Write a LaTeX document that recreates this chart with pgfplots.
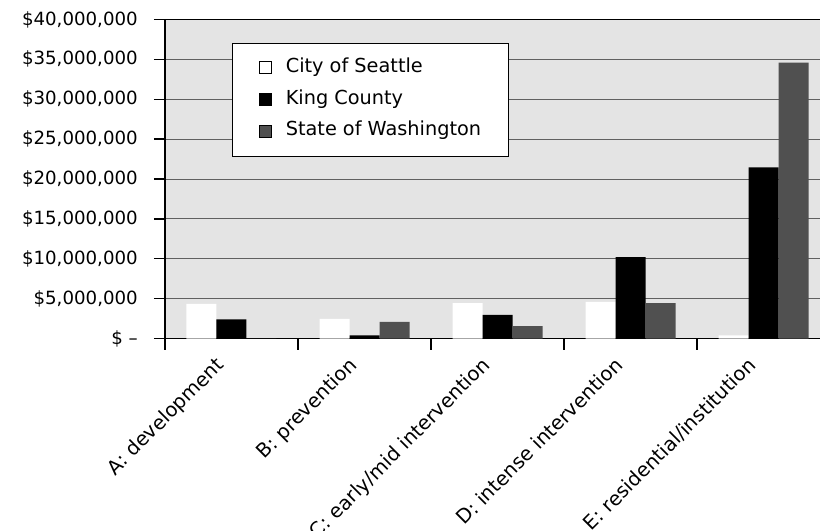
\documentclass[border=0pt]{standalone}
\usepackage{fontspec}
\setmainfont{DejaVu Sans}
\usepackage{pgfplots}
\pgfplotsset{compat=1.18}
\definecolor{bg}{HTML}{E4E4E4}
\definecolor{stategray}{HTML}{505050}
\definecolor{gridgray}{HTML}{606060}
\begin{document}
\begin{tikzpicture}
\path[use as bounding box, clip] (-165bp,-192.5bp) rectangle (655bp,338.5bp);
\fill[white] (-165bp,-192.5bp) rectangle (655bp,338.5bp);
\begin{axis}[
  scale only axis,
  width=660bp, height=319bp,
  at={(0,0)}, anchor=south west,
  xmin=-0.5, xmax=4.4624,
  ymin=0, ymax=40000000,
  axis line style={black, line width=1.5bp},
  axis background/.style={fill=bg},
  ybar=0pt, bar width=30bp,
  xtick={-0.5,0.5,1.5,2.5,3.5},
  xticklabels={},
  extra x ticks={0,1,2,3,4},
  extra x tick labels={A: development, B: prevention, C: early/mid intervention, D: intense intervention, E: residential/institution},
  extra x tick style={major tick length=0pt},
  xtick pos=left, ytick pos=left,
  major tick length=11bp,
  tick align=outside,
  tick style={black, line width=1.3bp},
  ytick={0,5000000,10000000,15000000,20000000,25000000,30000000,35000000,40000000},
  yticklabels={{\$ --\hspace{6bp}},{\$5,000,000},{\$10,000,000},{\$15,000,000},{\$20,000,000},{\$25,000,000},{\$30,000,000},{\$35,000,000},{\$40,000,000}},
  scaled y ticks=false,
  ymajorgrids,
  major grid style={gridgray, line width=1bp},
  yticklabel style={font=\fontsize{18.2bp}{22bp}\selectfont, anchor=east, inner sep=0pt, xshift=-16bp},
  xticklabel style={font=\fontsize{19.6bp}{22bp}\selectfont, xshift=-17bp, yshift=-17bp, rotate=45, anchor=north east, inner sep=0pt},
  legend style={at={(axis description cs:0.1015,0.926)}, anchor=north west,
    draw=black, line width=0.8bp, fill=white,
    inner xsep=27bp, inner ysep=16bp, row sep=14.7bp,
    font=\fontsize{19.3bp}{22bp}\selectfont,
    nodes={inner sep=0pt, anchor=base west, text height=13bp, text depth=4bp}},
  legend cell align=left,
  legend image code/.code={\draw[#1, draw=black, line width=0.8bp] (0bp,-1bp) rectangle (12bp,11bp); \path (26bp,0bp);},
]
\addplot[fill=white, draw=none] coordinates {(0,4340000) (1,2450000) (2,4450000) (3,4600000) (4,400000)};
\addplot[fill=black, draw=none] coordinates {(0,2400000) (1,380000) (2,2950000) (3,10200000) (4,21450000)};
\addplot[fill=stategray, draw=none] coordinates {(0,0) (1,2100000) (2,1550000) (3,4450000) (4,34600000)};
\legend{City of Seattle, King County, State of Washington}
\end{axis}
\end{tikzpicture}
\end{document}
